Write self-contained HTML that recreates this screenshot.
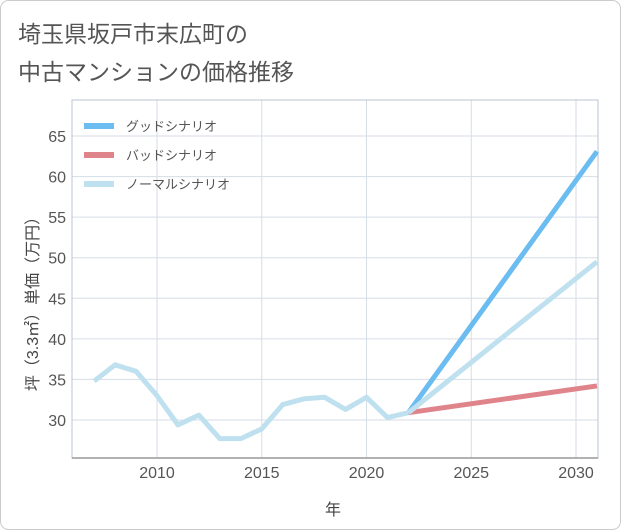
<!DOCTYPE html>
<html><head><meta charset="utf-8"><style>
body{margin:0;background:#fff}
#c{position:relative;width:621px;height:530px;overflow:hidden;font-family:"Liberation Sans","Noto Sans CJK JP",sans-serif}
</style></head><body>
<div id="c">
<svg id="s" width="621" height="530" xmlns="http://www.w3.org/2000/svg">
<rect x="0.5" y="0.5" width="620" height="529" rx="8" fill="#fff" stroke="#ccc"/>
<text x="18" y="42" font-size="23" fill="#555">埼玉県坂戸市末広町の</text>
<text x="18" y="80" font-size="23" fill="#555">中古マンションの価格推移</text>
<g id="grid"></g><g id="axes"></g><g id="series"></g>
<text x="333" y="515" font-size="16" fill="#444" text-anchor="middle">年</text>
<text transform="translate(38,300) rotate(-90)" font-size="16" fill="#444" text-anchor="middle">坪（3.3㎡）単価（万円）</text>
<g id="legend"></g>
</svg></div>
<script>
const histYears=[2007,2008,2009,2010,2011,2012,2013,2014,2015,2016,2017,2018,2019,2020,2021,2022];
const histValues=[34.8,36.8,36.0,33.0,29.4,30.6,27.7,27.7,28.9,31.9,32.6,32.8,31.3,32.8,30.3,30.9];
const futYears=[2022,2031];
const goodValues=[30.9,63.1];
const badValues=[30.9,34.2];
const normalValues=[30.9,49.5];
const xTicks=[2010,2015,2020,2025,2030];
const yTicks=[30,35,40,45,50,55,60,65];
const seriesNames=["グッドシナリオ","バッドシナリオ","ノーマルシナリオ"];
const L=72,R=598,T=100,B=458;
const x=v=>157+(v-2010)*20.95;
const y=v=>420-(v-30)*8.114;
const NS="http://www.w3.org/2000/svg";
function mk(p,t,a){const e=document.createElementNS(NS,t);for(const k in a)e.setAttribute(k,a[k]);p.appendChild(e);return e;}
const g=document.getElementById('grid'),ax=document.getElementById('axes'),se=document.getElementById('series'),lg=document.getElementById('legend');
yTicks.forEach(v=>{const l=mk(g,'line',{x1:L,x2:R,y1:y(v),y2:y(v),stroke:'#d5dde6'});

const t=mk(ax,'text',{x:L-6,y:y(v)+6,'font-size':16,fill:'#555','text-anchor':'end'});t.textContent=v;
});
xTicks.forEach(v=>{const l=mk(g,'line',{x1:x(v),x2:x(v),y1:T,y2:B,stroke:'#d5dde6'});

const t=mk(ax,'text',{x:x(v),y:B+20,'font-size':16,fill:'#555','text-anchor':'middle'});t.textContent=v;
});
const fr=mk(ax,'rect',{x:L,y:T,width:R-L,height:B-T,fill:'none',stroke:'#b8c4d0'});

const bl=mk(ax,'line',{x1:L,x2:R,y1:B,y2:B,stroke:'#999','stroke-width':1.5});

function line(xs,vs,col,name){const p=mk(se,'polyline',{points:xs.map((a,i)=>x(a)+','+y(vs[i])).join(' '),fill:'none',stroke:col,'stroke-width':5,'stroke-linejoin':'round'});
}
line(futYears,badValues,'#e0848c','bad-scenario-line');
line(futYears,goodValues,'#6bbcf0','good-scenario-line');
line(futYears,normalValues,'#bfe0ef','normal-scenario-line');
line(histYears,histValues,'#bfe0ef','historical-line');
const cols=['#6bbcf0','#e0848c','#bfe0ef'];
seriesNames.forEach((n,i)=>{const yy=126+i*29;
const l=mk(lg,'line',{x1:84,x2:114,y1:yy,y2:yy,stroke:cols[i],'stroke-width':6});

const t=mk(lg,'text',{x:126,y:yy+5,'font-size':13,fill:'#555'});t.textContent=n;
});
</script></body></html>
